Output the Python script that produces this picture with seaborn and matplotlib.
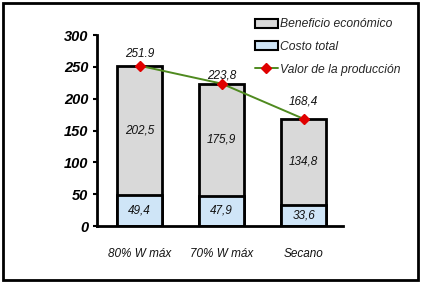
import pandas as pd
import seaborn as sns
import matplotlib.pyplot as plt
from matplotlib.patches import Rectangle, Patch
from matplotlib.lines import Line2D

# ------------------- Data -------------------
categories = ['80% W máx', '70% W máx', 'Secano']
costo_total = [49.4, 47.9, 33.6]
beneficio = [202.5, 175.9, 134.8]
valor_produccion = [251.9, 223.8, 168.4]
costo_labels = ['49,4', '47,9', '33,6']
beneficio_labels = ['202,5', '175,9', '134,8']
valor_labels = ['251.9', '223,8', '168,4']

df = pd.DataFrame({'Escenario': categories, 'Costo': costo_total,
                   'Beneficio': beneficio, 'Valor': valor_produccion})

# ------------------- Style -------------------
sns.set_theme(style='white')
plt.rcParams['font.family'] = ['Liberation Sans', 'DejaVu Sans']

gray = '#d9d9d9'
blue = '#cfe5f7'
green = '#4f8a1f'
red = '#e00000'
txt = '#111111'

fig = plt.figure(figsize=(4.21, 2.83), dpi=100)
ax = fig.add_axes([0.230, 0.201, 0.585, 0.675])

# total height bars (gray) then cost bars (blue) on top
sns.barplot(data=df, x='Escenario', y='Valor', color=gray, width=0.55,
            edgecolor='black', linewidth=2, saturation=1, ax=ax)
sns.barplot(data=df, x='Escenario', y='Costo', color=blue, width=0.55,
            edgecolor='black', linewidth=2, saturation=1, ax=ax)

# production value line
ax.plot(range(len(categories)), df['Valor'], color=green, lw=1.4,
        marker='D', markersize=5, markerfacecolor=red, markeredgecolor=red,
        zorder=5)

# labels
for i in range(len(categories)):
    ax.text(i, costo_total[i] / 2, costo_labels[i], ha='center', va='center',
            fontsize=8.5, style='italic', color=txt)
    ax.text(i, costo_total[i] + beneficio[i] / 2, beneficio_labels[i],
            ha='center', va='center', fontsize=8.5, style='italic', color=txt)

label_offsets = [4, 1.5, 8]
for i in range(len(categories)):
    ax.annotate(valor_labels[i], (i, valor_produccion[i]),
                xytext=(0, label_offsets[i]), textcoords='offset points',
                ha='center', va='bottom', fontsize=8.5, style='italic',
                color=txt)

ax.set_xlim(-0.52, 2.48)
ax.set_ylim(0, 300)
ax.set_yticks(range(0, 301, 50))
ax.set_xlabel('')
ax.set_ylabel('')
for lbl in ax.get_yticklabels():
    lbl.set_fontweight('bold')
    lbl.set_fontstyle('italic')
    lbl.set_fontsize(10.5)
for lbl in ax.get_xticklabels():
    lbl.set_fontstyle('italic')
    lbl.set_fontsize(8.5)
    lbl.set_color(txt)
ax.tick_params(axis='y', left=True, length=3, width=1.5, pad=3, colors='black')
ax.tick_params(axis='x', bottom=False, pad=10)

sns.despine(ax=ax)
ax.spines['left'].set_linewidth(2)
ax.spines['bottom'].set_linewidth(2)
ax.spines['left'].set_color('black')
ax.spines['bottom'].set_color('black')

# legend
handles = [Patch(facecolor=gray, edgecolor='black', linewidth=1.5),
           Patch(facecolor=blue, edgecolor='black', linewidth=1.5),
           Line2D([], [], color=green, lw=1.4, marker='D', markersize=5,
                  markerfacecolor=red, markeredgecolor=red)]
fig.legend(handles, ['Beneficio económico', 'Costo total', 'Valor de la producción'],
           loc='upper left', bbox_to_anchor=(0.594, 0.952), frameon=False,
           prop={'style': 'italic', 'size': 8.7}, handlelength=1.9,
           handleheight=0.8, handletextpad=0.2, labelspacing=0.88,
           borderaxespad=0)

# outer border
fig.patches.append(Rectangle((0.008, 0.012), 0.984, 0.978, transform=fig.transFigure,
                             fill=False, edgecolor='black', linewidth=2))

fig.savefig('out.png', dpi=100)
